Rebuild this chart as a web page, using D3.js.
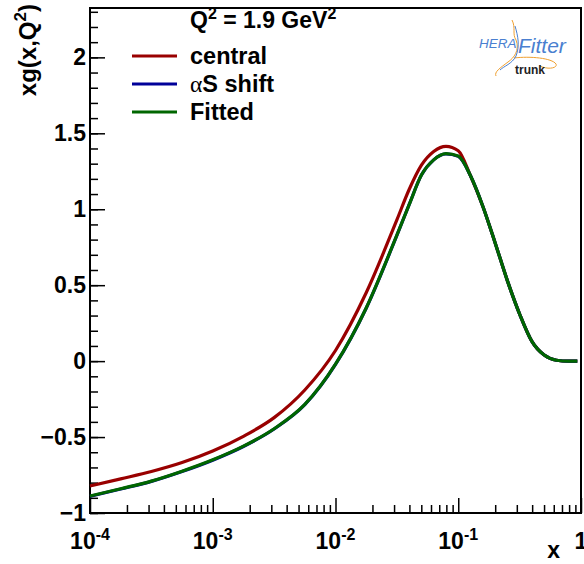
<!DOCTYPE html>
<html>
<head>
<meta charset="utf-8">
<script src="https://cdn.jsdelivr.net/npm/d3@7"></script>
<style>
  body { margin: 0; background: #fff; }
  text { font-family: "Liberation Sans", Arial, sans-serif; font-weight: bold; }
</style>
</head>
<body>
<div id="graph"></div>
<script>
// log10(x) grid the curves were read on
var logx = [-4, -3.75, -3.5, -3.25, -3, -2.75, -2.5, -2.25, -2, -1.75, -1.5, -1.4, -1.3, -1.2, -1.1, -1.0, -0.9, -0.8, -0.7, -0.6, -0.5, -0.4, -0.3, -0.2, -0.1, -0.03];
var central = [-0.822, -0.775, -0.727, -0.668, -0.592, -0.495, -0.372, -0.19, 0.07, 0.45, 0.93, 1.13, 1.29, 1.38, 1.414, 1.385, 1.22, 1.02, 0.78, 0.53, 0.31, 0.13, 0.04, 0.006, 0.0, 0.0];
var alphaS  = [-0.890, -0.842, -0.792, -0.727, -0.652, -0.562, -0.447, -0.287, -0.022, 0.348, 0.828, 1.03, 1.225, 1.325, 1.364, 1.348, 1.22, 1.02, 0.78, 0.53, 0.31, 0.13, 0.04, 0.006, 0.0, 0.0];
var fitted  = [-0.888, -0.84, -0.79, -0.725, -0.65, -0.56, -0.445, -0.285, -0.02, 0.35, 0.83, 1.03, 1.225, 1.325, 1.366, 1.35, 1.22, 1.02, 0.78, 0.53, 0.31, 0.13, 0.04, 0.006, 0.0, 0.0];

var seriesNames = ["central", "\u03b1S shift", "Fitted"];
var seriesColors = ["#990000", "#000099", "#006600"];
var yMajor = [-1, -0.5, 0, 0.5, 1, 1.5, 2];
var xMajorExp = [-4, -3, -2, -1, 0];

var W = 584, H = 564;
var margin = { top: 8, right: 3, bottom: 51, left: 90 };
var width = W - margin.left - margin.right,
    height = H - margin.top - margin.bottom;

var svg = d3.select('#graph').append('svg')
    .attr('width', W)
    .attr('height', H)
    .style('background', '#fff');

var g = svg.append("g")
    .attr("transform", "translate(" + margin.left + "," + margin.top + ")");

var x = d3.scaleLog().domain([1e-4, 1]).range([0, width]);
var y = d3.scaleLinear().domain([-1, 2.325]).range([height, 0]);

// minor y ticks
var yMinor = d3.range(-10, 24).map(function(i){ return i / 10; });
g.append("g")
    .call(d3.axisLeft(y).tickValues(yMinor).tickSize(-8).tickFormat(""))
    .call(function(s){ s.select(".domain").remove(); })
    .selectAll("line").attr("stroke", "#000").attr("stroke-width", 1.5);

// major y ticks + labels
g.append("g")
    .call(d3.axisLeft(y).tickValues(yMajor).tickSize(-15).tickPadding(4)
        .tickFormat(function(d){ return d3.format("")(d); }))
    .call(function(s){ s.select(".domain").remove(); })
    .call(function(s){
        s.selectAll("line").attr("stroke", "#000").attr("stroke-width", 1.5);
        s.selectAll("text").style("font-size", "23px").attr("fill", "#000");
    });

// minor x ticks
var xMinor = [];
for (var e = -4; e < 0; e++) {
    for (var k = 2; k <= 9; k++) xMinor.push(k * Math.pow(10, e));
}
g.append("g")
    .attr("transform", "translate(0," + height + ")")
    .call(d3.axisBottom(x).tickValues(xMinor).tickSize(-8).tickFormat(""))
    .call(function(s){ s.select(".domain").remove(); })
    .selectAll("line").attr("stroke", "#000").attr("stroke-width", 1.5);

// major x ticks
var xAx = g.append("g")
    .attr("transform", "translate(0," + height + ")")
    .call(d3.axisBottom(x).tickValues(xMajorExp.map(function(e){ return Math.pow(10, e); }))
        .tickSize(-15).tickFormat(""))
    .call(function(s){ s.select(".domain").remove(); });
xAx.selectAll("line").attr("stroke", "#000").attr("stroke-width", 1.5);

// x tick labels as 10^n
xMajorExp.forEach(function(e){
    var t = g.append("text")
        .attr("x", x(Math.pow(10, e)))
        .attr("y", height + 36)
        .attr("text-anchor", "middle")
        .style("font-size", "23px");
    if (e === 0) {
        t.text("1");
    } else {
        t.append("tspan").text("10");
        t.append("tspan").attr("dy", -9).style("font-size", "16px").text(String(e));
    }
});

// frame
g.append("rect")
    .attr("x", 0).attr("y", 0)
    .attr("width", width).attr("height", height)
    .attr("fill", "none")
    .attr("stroke", "#000")
    .attr("stroke-width", 2);

// curves
var line = d3.line()
    .x(function(d){ return x(Math.pow(10, d[0])); })
    .y(function(d){ return y(d[1]); })
    .curve(d3.curveMonotoneX);

[central, alphaS, fitted].forEach(function(vals, i){
    g.append("path")
        .datum(logx.map(function(lx, j){ return [lx, vals[j]]; }))
        .attr("d", line)
        .attr("fill", "none")
        .attr("stroke", seriesColors[i])
        .attr("stroke-width", 3.2);
});

// axis titles
svg.append("text")
    .attr("transform", "translate(36,4) rotate(-90)")
    .attr("text-anchor", "end")
    .style("font-size", "24px")
    .call(function(t){
        t.append("tspan").text("xg(x,Q");
        t.append("tspan").attr("dy", -10).style("font-size", "17px").text("2");
        t.append("tspan").attr("dy", 10).text(")");
    });

svg.append("text")
    .attr("x", 560).attr("y", 558)
    .attr("text-anchor", "end")
    .style("font-size", "23px")
    .text("x");

// legend
var leg = svg.append("g");
leg.append("text")
    .attr("x", 190).attr("y", 28)
    .style("font-size", "23px")
    .call(function(t){
        t.append("tspan").text("Q");
        t.append("tspan").attr("dy", -9).style("font-size", "16px").text("2");
        t.append("tspan").attr("dy", 9).text(" = 1.9 GeV");
        t.append("tspan").attr("dy", -9).style("font-size", "16px").text("2");
    });

seriesNames.forEach(function(name, i){
    var ly = 56 + i * 28;
    leg.append("line")
        .attr("x1", 132).attr("x2", 177)
        .attr("y1", ly).attr("y2", ly)
        .attr("stroke", seriesColors[i])
        .attr("stroke-width", 3.2);
    var t = leg.append("text")
        .attr("x", 190).attr("y", ly + 8)
        .style("font-size", "23.5px");
    if (name.charAt(0) === "\u03b1") {
        t.append("tspan").style("font-family", "'Liberation Serif', serif").style("font-weight", "normal").text("\u03b1");
        t.append("tspan").text(name.slice(1));
    } else {
        t.text(name);
    }
});

// HERAFitter logo (rough)
var logo = svg.append("g");
logo.append("path")
    .attr("d", "M512,20 C516,28 512,34 516,40 C520,50 514,58 508,62 C500,68 494,72 496,76")
    .attr("fill", "none").attr("stroke", "#f0a030").attr("stroke-width", 1);
logo.append("path")
    .attr("d", "M514,58 C530,56 552,58 556,64 C558,68 548,70 540,66")
    .attr("fill", "none").attr("stroke", "#f0a030").attr("stroke-width", 1);
logo.append("path")
    .attr("d", "M515,26 C518,36 520,46 516,56 C512,64 504,66 500,70")
    .attr("fill", "none").attr("stroke", "#4a7fd0").attr("stroke-width", 1);
logo.append("text")
    .attr("x", 479).attr("y", 48)
    .style("font-size", "13.5px").style("font-weight", "normal").style("font-style", "italic")
    .attr("fill", "#4a7fd0")
    .text("HERA");
logo.append("text")
    .attr("x", 518).attr("y", 53)
    .style("font-size", "21px").style("font-weight", "normal").style("font-style", "italic")
    .attr("fill", "#4a7fd0")
    .text("Fitter");
logo.append("text")
    .attr("x", 515).attr("y", 74)
    .style("font-size", "12px")
    .attr("fill", "#222")
    .text("trunk");
</script>
</body>
</html>
